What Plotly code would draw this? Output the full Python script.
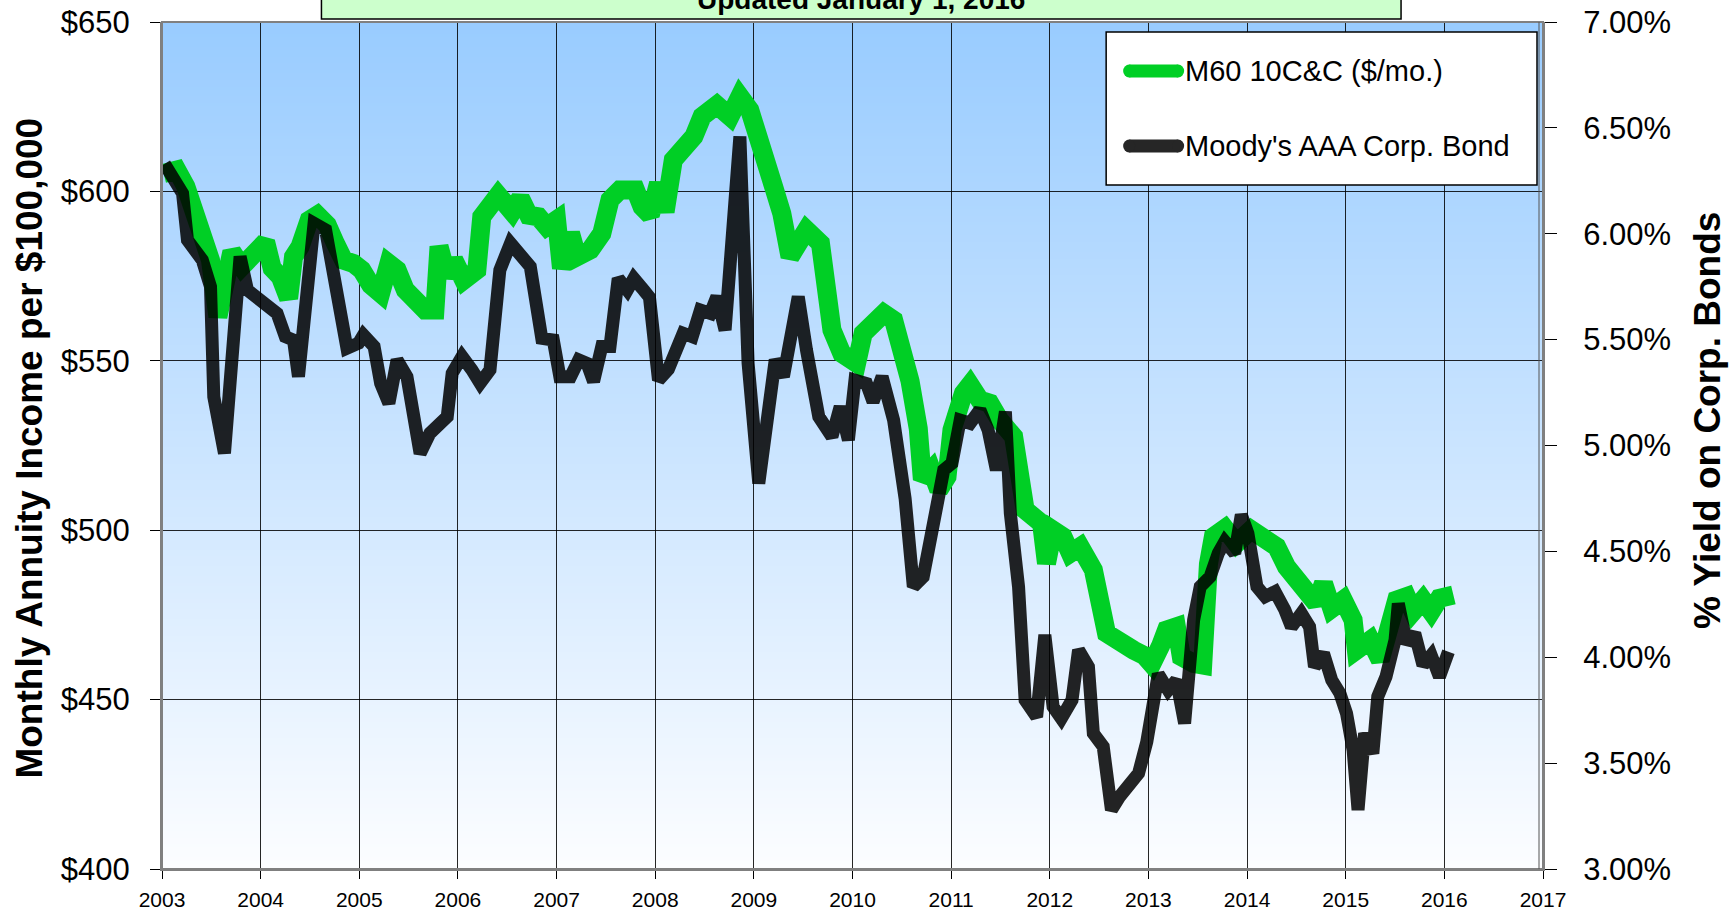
import base64, struct, zlib
import plotly.graph_objects as go

# ---------------- data ----------------
# months since Jan 2003 and monthly annuity income ($/mo per $100,000)
m60_months = [0.2, 1.8, 2.9, 4.9, 5.9, 6.8, 8.5, 9.7, 11.2, 12.6, 13.4, 14.4, 15.4, 16.0, 16.8,
              17.9, 18.9, 20.1, 21.1, 22.1, 23.3, 24.3, 25.4, 26.6, 27.6, 28.6, 29.6, 30.6, 31.4,
              32.0, 33.2, 33.7, 34.7, 35.5, 36.7, 38.3, 38.9, 40.9, 42.6, 43.6, 44.6, 45.8, 46.8,
              48.0, 48.6, 49.7, 50.5, 52.1, 53.5, 54.5, 55.7, 57.6, 58.4, 59.4, 60.4, 61.2, 62.2,
              63.8, 64.7, 65.7, 67.5, 69.1, 70.3, 71.5, 72.4, 73.4, 74.4, 75.4, 76.4, 77.4, 78.4,
              80.1, 80.7, 81.5, 82.7, 84.5, 85.3, 86.5, 87.8, 89.0, 89.9, 91.0, 92.0, 92.5, 93.6,
              94.5, 95.5, 96.1, 97.5, 98.3, 99.5, 100.7, 101.9, 103.6, 105.0, 107.0, 107.6, 108.4,
              109.6, 110.5, 111.7, 113.3, 114.9, 116.5, 118.2, 119.5, 120.4, 121.5, 122.2, 123.4,
              124.0, 125.5, 126.6, 127.3, 127.9, 129.3, 130.7, 132.5, 134.0, 135.6, 136.8, 138.0,
              139.4, 140.4, 141.3, 142.3, 143.7, 144.9, 145.3, 147.0, 148.2, 149.4, 150.2, 151.4,
              152.2, 153.4, 154.4, 155.4, 156.5, 157.1]
m60_income = [605.3, 606.3, 601.4, 588.6, 579.7, 563.0, 582.2, 577.8, 580.7, 585.1, 577.3, 574.8,
              568.4, 580.7, 583.7, 591.5, 593.0, 590.1, 584.6, 579.7, 578.7, 576.8, 572.4, 569.9,
              578.7, 576.8, 570.9, 567.9, 566.0, 565.0, 565.0, 583.7, 574.8, 579.8, 573.8, 576.8,
              592.5, 598.9, 594.0, 598.0, 593.0, 592.5, 589.6, 591.6, 577.3, 587.6, 580.7, 582.7,
              587.6, 597.5, 600.4, 600.4, 595.5, 593.0, 602.4, 594.0, 609.3, 613.2, 616.2, 622.1,
              625.5, 622.1, 628.0, 624.0, 618.1, 609.3, 601.4, 593.5, 580.7, 584.7, 588.6, 584.7,
              569.9, 559.1, 552.2, 549.3, 558.1, 561.1, 564.0, 562.0, 554.0, 544.0, 530.0, 515.0,
              517.8, 511.9, 515.8, 529.6, 540.4, 542.9, 538.4, 537.5, 532.5, 527.6, 506.0, 502.0,
              490.2, 500.0, 498.1, 493.2, 495.1, 488.3, 469.6, 466.6, 464.6, 463.0, 460.5, 466.0,
              470.5, 471.5, 462.7, 460.7, 460.2, 490.0, 498.1, 500.5, 496.1, 500.1, 497.1, 495.1,
              489.2, 485.8, 483.3, 478.4, 484.3, 476.9, 479.4, 473.5, 464.6, 467.6, 461.7, 471.5,
              479.4, 480.4, 476.0, 479.4, 476.0, 479.9, 481.4, 480.9]

# months since Jan 2003 and Moody's AAA corporate bond yield (%)
aaa_months = [0.3, 1.4, 2.5, 3.1, 3.9, 4.9, 5.9, 6.3, 7.6, 8.5, 9.5, 10.4, 11.6, 12.8, 14.0, 15.0,
              16.0, 16.6, 17.6, 18.5, 19.9, 21.3, 22.5, 23.9, 24.5, 25.8, 26.6, 27.6, 28.6, 29.8,
              30.6, 31.4, 32.6, 34.7, 35.3, 36.5, 37.7, 38.7, 39.9, 41.1, 42.4, 43.8, 44.8, 46.2,
              47.6, 48.4, 49.7, 50.7, 51.7, 52.5, 53.5, 54.5, 55.5, 56.6, 57.4, 58.6, 59.3, 60.4,
              61.6, 63.4, 64.5, 65.5, 66.7, 67.5, 68.5, 70.3, 71.3, 72.6, 73.6, 74.6, 75.6, 77.4,
              78.4, 79.9, 81.5, 82.5, 83.5, 84.3, 85.7, 86.5, 87.6, 89.0, 90.4, 91.4, 92.6, 93.8,
              95.1, 96.1, 97.1, 98.3, 99.5, 100.5, 101.5, 102.6, 103.2, 104.2, 105.0, 106.4, 107.4,
              108.4, 109.4, 110.7, 111.5, 112.7, 113.3, 114.5, 115.5, 116.5, 117.8, 118.8, 119.8,
              121.2, 122.4, 123.4, 124.4, 125.5, 126.3, 127.5, 128.5, 129.3, 130.5, 131.3, 132.1,
              133.2, 134.2, 135.4, 136.6, 137.4, 138.6, 139.6, 140.2, 141.3, 142.3, 143.3, 144.1,
              144.9, 145.5, 146.3, 147.3, 147.9, 148.9, 150.0, 150.4, 151.4, 152.4, 153.4, 154.4,
              155.4, 156.5]
aaa_yield = [6.33, 6.254, 6.191, 5.97, 5.923, 5.876, 5.75, 5.23, 4.963, 5.451, 5.892, 5.734, 5.703,
             5.656, 5.624, 5.514, 5.498, 5.325, 5.766, 6.049, 6.018, 5.734, 5.459, 5.483, 5.522,
             5.467, 5.293, 5.199, 5.404, 5.325, 5.136, 4.963, 5.058, 5.136, 5.341, 5.42, 5.357,
             5.294, 5.357, 5.829, 5.955, 5.892, 5.845, 5.506, 5.498, 5.325, 5.325, 5.404, 5.388,
             5.302, 5.467, 5.467, 5.789, 5.734, 5.789, 5.734, 5.70, 5.309, 5.36, 5.53, 5.514, 5.64,
             5.624, 5.703, 5.545, 6.459, 5.388, 4.821, 5.183, 5.404, 5.325, 5.703, 5.451, 5.136,
             5.042, 5.183, 5.026, 5.309, 5.293, 5.207, 5.325, 5.12, 4.75, 4.333, 4.38, 4.632, 4.884,
             4.916, 5.12, 5.105, 5.168, 5.073, 4.884, 5.16, 4.68, 4.333, 3.798, 3.719, 4.105, 3.767,
             3.711, 3.798, 4.034, 3.955, 3.641, 3.578, 3.279, 3.342, 3.42, 3.452, 3.6, 3.92, 3.845,
             3.892, 3.688, 4.176, 4.333, 4.38, 4.491, 4.546, 4.491, 4.672, 4.585, 4.333, 4.286,
             4.31, 4.223, 4.144, 4.207, 4.144, 3.955, 4.018, 3.892, 3.829, 3.735, 3.562, 3.279,
             3.641, 3.546, 3.814, 3.908, 4.081, 4.254, 4.065, 4.113, 3.963, 4.01, 3.908, 4.026]

start_year = 2003
year_ticks = list(range(2003, 2018))
income_ticks = [400, 450, 500, 550, 600, 650]
yield_ticks = [3.0, 3.5, 4.0, 4.5, 5.0, 5.5, 6.0, 6.5, 7.0]
series_names = ["M60 10C&C ($/mo.)", "Moody's AAA Corp. Bond"]
note_text = "Updated January 1, 2016"
left_title = "Monthly Annuity Income per $100,000"
right_title = "% Yield on Corp. Bonds"

# ---------------- styling ----------------
FONT = "Liberation Sans, Arial, Helvetica, sans-serif"
GREEN = "#00CF25"
DARK = "rgba(0,0,0,0.86)"


def gradient_png(top, bottom, n=256):
    raw = b""
    for i in range(n):
        t = i / (n - 1)
        c = [round(top[k] * (1 - t) + bottom[k] * t) for k in range(3)]
        raw += b"\x00" + bytes(c)

    def chunk(tag, data):
        return (struct.pack(">I", len(data)) + tag + data +
                struct.pack(">I", zlib.crc32(tag + data) & 0xFFFFFFFF))

    png = (b"\x89PNG\r\n\x1a\n" +
           chunk(b"IHDR", struct.pack(">IIBBBBB", 1, n, 8, 2, 0, 0, 0)) +
           chunk(b"IDAT", zlib.compress(raw)) + chunk(b"IEND", b""))
    return "data:image/png;base64," + base64.b64encode(png).decode()


x_m60 = [start_year + m / 12 for m in m60_months]
x_aaa = [start_year + m / 12 for m in aaa_months]

fig = go.Figure()
fig.add_trace(go.Scatter(x=x_m60, y=m60_income, mode="lines", name=series_names[0],
                         line=dict(color=GREEN, width=19), showlegend=False,
                         hoverinfo="skip"))
fig.add_trace(go.Scatter(x=x_aaa, y=aaa_yield, mode="lines", name=series_names[1],
                         line=dict(color=DARK, width=13), yaxis="y2", showlegend=False,
                         hoverinfo="skip"))

W, H = 1735, 913
L, R, T, B = 161.5, 1543.0, 22.0, 869.0
pw, ph = R - L, B - T


def px(x):
    return (x - L) / pw


def py(y):
    return (B - y) / ph


fig.update_layout(
    width=W, height=H, autosize=False,
    margin=dict(l=L, r=W - R, t=T, b=H - B, pad=0),
    paper_bgcolor="white", plot_bgcolor="white",
    font=dict(family=FONT, color="black"),
    showlegend=False,
    xaxis=dict(range=[2003, 2017], tickvals=year_ticks, ticktext=[str(v) for v in year_ticks],
               showgrid=True, gridcolor="rgba(0,0,0,0.85)", gridwidth=1,
               ticks="outside", ticklen=8, tickcolor="black", tickwidth=1,
               showline=True, linecolor="#7f7f7f", linewidth=2,
               tickfont=dict(size=21, family=FONT), ticklabelstandoff=3,
               zeroline=False, automargin=False),
    yaxis=dict(range=[400, 650], tickvals=income_ticks,
               ticktext=["$" + str(v) for v in income_ticks],
               showgrid=True, gridcolor="rgba(0,0,0,0.85)", gridwidth=1,
               ticks="outside", ticklen=10, tickcolor="black", tickwidth=1,
               showline=True, linecolor="#7f7f7f", linewidth=2,
               tickfont=dict(size=31, family=FONT), ticklabelstandoff=14,
               zeroline=False, automargin=False),
    yaxis2=dict(range=[3, 7], overlaying="y", side="right", tickvals=yield_ticks,
                ticktext=["%.2f%%" % v for v in yield_ticks],
                showgrid=False, ticks="outside", ticklen=12, tickcolor="black", tickwidth=1,
                showline=True, linecolor="#7f7f7f", linewidth=2,
                tickfont=dict(size=31, family=FONT), ticklabelstandoff=20,
                zeroline=False, automargin=False),
    images=[dict(source=gradient_png((153, 204, 255), (252, 253, 255)),
                 xref="x", yref="y", x=2003, y=650, sizex=14, sizey=250,
                 sizing="stretch", layer="below", xanchor="left", yanchor="top")],
)

shapes = [
    # plot frame
    dict(type="rect", xref="paper", yref="paper", x0=0, x1=1, y0=0, y1=1,
         line=dict(color="#808080", width=2), layer="above"),
    # second thin line at the right edge
    dict(type="line", xref="paper", yref="paper", x0=px(R - 4), x1=px(R - 4), y0=0, y1=1,
         line=dict(color="#555555", width=1), layer="above"),
    # note box at top (partly cut off)
    dict(type="rect", xref="paper", yref="paper", x0=px(321), x1=px(1401),
         y0=py(19), y1=py(-40), fillcolor="#CCFFCC", line=dict(color="black", width=1.5),
         layer="above"),
    # legend box
    dict(type="rect", xref="paper", yref="paper", x0=px(1106), x1=px(1537),
         y0=py(185), y1=py(32), fillcolor="white", line=dict(color="black", width=1.5),
         layer="above"),
    dict(type="line", xref="paper", yref="paper", x0=px(1129), x1=px(1178),
         y0=py(71), y1=py(71), line=dict(color=GREEN, width=13), layer="above"),
    dict(type="line", xref="paper", yref="paper", x0=px(1129), x1=px(1178),
         y0=py(146), y1=py(146), line=dict(color="#262626", width=13), layer="above"),
    dict(type="circle", xref="paper", yref="paper", x0=px(1123), x1=px(1135),
         y0=py(77.5), y1=py(64.5), fillcolor=GREEN, line=dict(width=0), layer="above"),
    dict(type="circle", xref="paper", yref="paper", x0=px(1172), x1=px(1184),
         y0=py(77.5), y1=py(64.5), fillcolor=GREEN, line=dict(width=0), layer="above"),
    dict(type="circle", xref="paper", yref="paper", x0=px(1123), x1=px(1135),
         y0=py(152.5), y1=py(139.5), fillcolor="#262626", line=dict(width=0), layer="above"),
    dict(type="circle", xref="paper", yref="paper", x0=px(1172), x1=px(1184),
         y0=py(152.5), y1=py(139.5), fillcolor="#262626", line=dict(width=0), layer="above"),
]
fig.update_layout(shapes=shapes)

annotations = [
    dict(text="<b>" + note_text + "</b>", xref="paper", yref="paper", x=px(861), y=py(17),
         xanchor="center", yanchor="bottom", showarrow=False,
         font=dict(size=28, family=FONT, color="black")),
    dict(text=series_names[0], xref="paper", yref="paper", x=px(1183), y=py(71),
         xanchor="left", yanchor="middle", showarrow=False,
         font=dict(size=29, family=FONT, color="black")),
    dict(text=series_names[1], xref="paper", yref="paper", x=px(1183), y=py(146),
         xanchor="left", yanchor="middle", showarrow=False,
         font=dict(size=29, family=FONT, color="black")),
    dict(text="<b>" + left_title + "</b>", xref="paper", yref="paper", x=px(28), y=py(448),
         xanchor="center", yanchor="middle", textangle=-90, showarrow=False,
         font=dict(size=37, family=FONT, color="black")),
    dict(text="<b>" + right_title + "</b>", xref="paper", yref="paper", x=px(1707), y=py(420),
         xanchor="center", yanchor="middle", textangle=-90, showarrow=False,
         font=dict(size=37, family=FONT, color="black")),
]
fig.update_layout(annotations=annotations)

fig.write_html("out.html", config={"displayModeBar": False},
               post_script="document.body.style.margin='0';document.body.style.overflow='hidden';")
